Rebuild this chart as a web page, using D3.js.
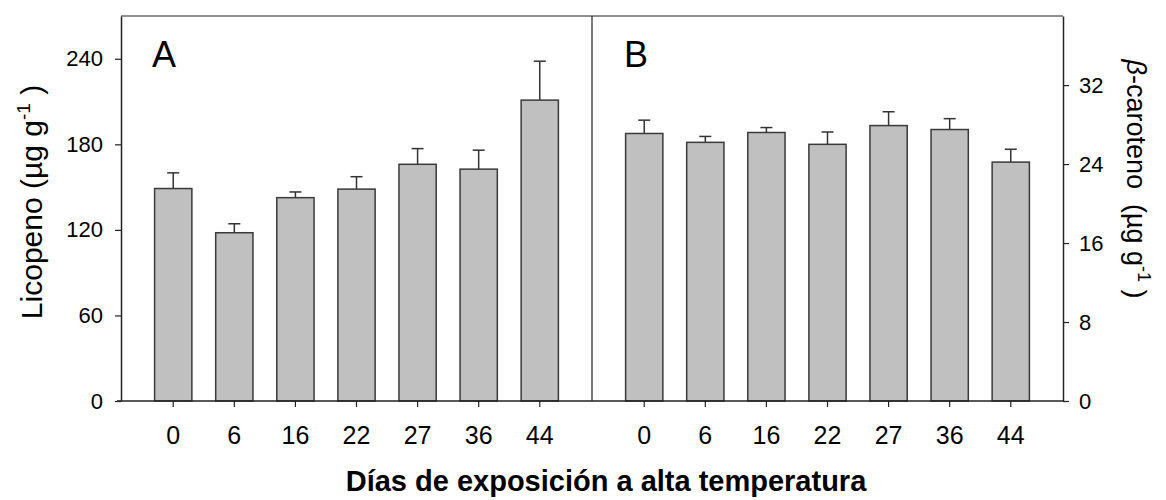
<!DOCTYPE html>
<html>
<head>
<meta charset="utf-8">
<script src="https://cdn.jsdelivr.net/npm/d3@7/dist/d3.min.js"></script>
<style>
  html, body { margin: 0; padding: 0; background: #fff; }
  svg { display: block; font-family: "Liberation Sans", Arial, sans-serif; }
</style>
</head>
<body>
<svg id="chart" width="1166" height="500"></svg>
<script>
// Days of exposure to high temperature (category labels on both panels)
const days = ["0", "6", "16", "22", "27", "36", "44"];

// Panel A: lycopene content (µg g-1), mean and standard error
const licopeno    = [149, 118, 142.6, 148.6, 166, 162.6, 211];
const licopenoErr = [11, 6.3, 4, 8.7, 11, 13.3, 27.3];

// Panel B: beta-carotene content (µg g-1), mean and standard error
const caroteno    = [27.1, 26.2, 27.2, 26.0, 27.9, 27.5, 24.2];
const carotenoErr = [1.35, 0.6, 0.5, 1.25, 1.4, 1.1, 1.3];

// Axis ticks
const ticksLeft  = [0, 60, 120, 180, 240];
const ticksRight = [0, 8, 16, 24, 32];

const svg = d3.select("#chart");

const plotTop = 16, base = 401;
const xL0 = 121, xMid = 592, xR1 = 1063;

const yL = d3.scaleLinear().domain([0, 270]).range([base, plotTop]);
const yR = d3.scaleLinear().domain([0, 39]).range([base, plotTop]);

const xA = d3.scaleBand().domain(days).range([xL0, xMid]).paddingInner(0.39).paddingOuter(0.55);
const xB = d3.scaleBand().domain(days).range([xMid, xR1]).paddingInner(0.39).paddingOuter(0.55);

const ink = "#222";

function drawBars(x, y, vals, errs) {
  const g = svg.append("g");
  const data = days.map((d, i) => ({ d, v: vals[i], e: errs[i] }));
  // error bars (upper whisker only)
  g.selectAll("line.err").data(data).join("line").attr("class", "err")
    .attr("x1", d => x(d.d) + x.bandwidth() / 2)
    .attr("x2", d => x(d.d) + x.bandwidth() / 2)
    .attr("y1", d => y(d.v))
    .attr("y2", d => y(d.v + d.e))
    .attr("stroke", "#333").attr("stroke-width", 1.5);
  g.selectAll("line.cap").data(data).join("line").attr("class", "cap")
    .attr("x1", d => x(d.d) + x.bandwidth() / 2 - 6)
    .attr("x2", d => x(d.d) + x.bandwidth() / 2 + 6)
    .attr("y1", d => y(d.v + d.e))
    .attr("y2", d => y(d.v + d.e))
    .attr("stroke", "#333").attr("stroke-width", 1.5);
  g.selectAll("rect").data(data).join("rect")
    .attr("x", d => x(d.d))
    .attr("y", d => y(d.v))
    .attr("width", x.bandwidth())
    .attr("height", d => y(0) - y(d.v))
    .attr("fill", "#c0c0c0")
    .attr("stroke", "#3a3a3a").attr("stroke-width", 1.5);
}

drawBars(xA, yL, licopeno, licopenoErr);
drawBars(xB, yR, caroteno, carotenoErr);

// Frame: top border and panel divider
svg.append("line").attr("x1", xL0).attr("x2", xR1).attr("y1", plotTop).attr("y2", plotTop)
  .attr("stroke", ink).attr("stroke-width", 1.2);
svg.append("line").attr("x1", xMid).attr("x2", xMid).attr("y1", plotTop).attr("y2", base)
  .attr("stroke", ink).attr("stroke-width", 1.2);

// Left y axis
const axL = svg.append("g").attr("transform", `translate(${xL0},0)`)
  .call(d3.axisLeft(yL).tickValues(ticksLeft).tickSize(6).tickPadding(12).tickSizeOuter(0));
// Right y axis
const axR = svg.append("g").attr("transform", `translate(${xR1},0)`)
  .call(d3.axisRight(yR).tickValues(ticksRight).tickSize(6).tickPadding(10).tickSizeOuter(0));
// Bottom axes
const axBA = svg.append("g").attr("transform", `translate(0,${base})`)
  .call(d3.axisBottom(xA).tickSize(6).tickPadding(19).tickSizeOuter(0));
const axBB = svg.append("g").attr("transform", `translate(0,${base})`)
  .call(d3.axisBottom(xB).tickSize(6).tickPadding(19).tickSizeOuter(0));

[axL, axR, axBA, axBB].forEach(a => {
  a.select(".domain").attr("stroke", ink).attr("stroke-width", 1.5);
  a.selectAll(".tick line").attr("stroke", ink).attr("stroke-width", 1.2);
  a.selectAll(".tick text").attr("fill", "#000")
    .style("font-family", "'Liberation Sans', Arial, sans-serif")
    .style("font-size", "22px");
});
[axBA, axBB].forEach(a => a.selectAll(".tick text").style("font-size", "25px"));
// Bottom baseline spans both panels
axBA.select(".domain").attr("d", `M${xL0 - 4},0H${xMid}`);
axBB.select(".domain").attr("d", `M${xMid},0H${xR1}`);

// Panel letters
svg.append("text").attr("x", 152).attr("y", 67).attr("font-size", 36).text("A");
svg.append("text").attr("x", 624).attr("y", 67).attr("font-size", 36).text("B");

// Left axis title
const tL = svg.append("text")
  .attr("transform", `translate(42,202) rotate(-90)`)
  .attr("text-anchor", "middle").attr("font-size", 30);
tL.append("tspan").text("Licopeno (µg g");
tL.append("tspan").attr("dy", -12).attr("font-size", 19).text("-1");
tL.append("tspan").attr("dy", 12).text(" )");

// Right axis title
const tR = svg.append("text")
  .attr("transform", `translate(1127,179) rotate(90)`)
  .attr("text-anchor", "middle").attr("font-size", 27);
tR.append("tspan").attr("font-style", "italic").text("β");
tR.append("tspan").text("-caroteno\u00a0 (µg g");
tR.append("tspan").attr("dy", -11).attr("font-size", 18).text("-1");
tR.append("tspan").attr("dy", 11).text(" )");

// X axis title
svg.append("text").attr("x", 606).attr("y", 491).attr("text-anchor", "middle")
  .attr("font-size", 29).attr("font-weight", "bold").text("Días de exposición a alta temperatura");
</script>
</body>
</html>
